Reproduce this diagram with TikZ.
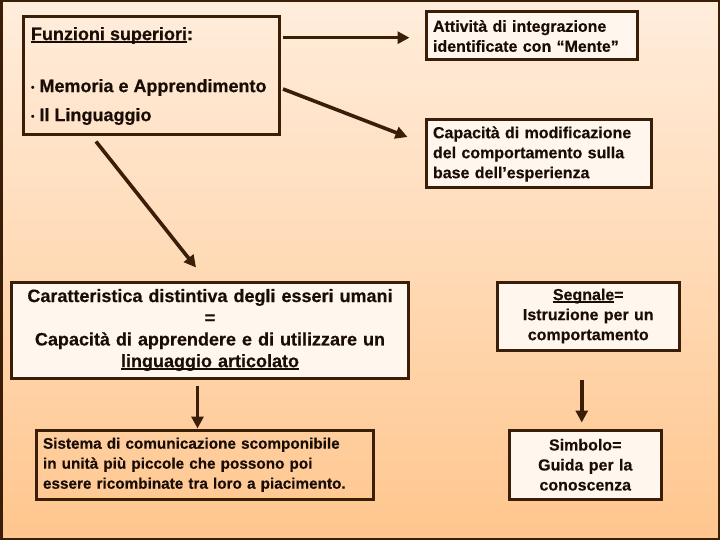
\documentclass[tikz,border=0pt]{standalone}
\usepackage{fontspec}
\setmainfont{Liberation Sans}[BoldFeatures={FakeBold=0.4}]
\usetikzlibrary{arrows.meta,calc}
\definecolor{bgtop}{HTML}{FFEDDC}
\definecolor{bgbot}{HTML}{FFC68E}
\definecolor{ink}{HTML}{3B1E08}
\definecolor{txt}{HTML}{1A0D05}
\definecolor{boxfill}{HTML}{FFF6EE}
\newcommand{\smallbul}{\raisebox{1.5pt}{\fontsize{10}{10}\selectfont •}\hspace{5pt}}
\newcommand{\myul}[1]{\leavevmode\setbox0\hbox{#1}\rlap{\rule[-2.4pt]{\wd0}{1.3pt}}\box0}
\begin{document}
\begin{tikzpicture}[x=1pt,y=-1pt,
  box/.style={draw=ink,line width=3pt,inner sep=0pt,text=txt,font=\bfseries},
  light/.style={box,fill=boxfill},
  rt/.style={font=\bfseries\fontsize{16}{20}\selectfont},
  arr/.style={draw=ink,line width=3.6pt,-{Triangle[length=12pt,width=12pt]}}]
\useasboundingbox (0,0) rectangle (720,540);
\shade[top color=bgtop,bottom color=bgbot] (0,0) rectangle (720,540);
\draw[ink,line width=2.5pt] (1.25,1.25) rectangle (718.75,538.75);

% nodes
\node[box,minimum width=256pt,minimum height=118pt] (fz) at (151,76)
  {\begin{minipage}{240pt}\fontsize{18}{29}\selectfont
   \myul{Funzioni superiori}:\\[23pt]
   \smallbul Memoria e Apprendimento\\
   \smallbul Il Linguaggio\end{minipage}};

\node[light,rt,minimum width=211pt,minimum height=48pt,text width=197pt,align=left] (at) at (531.5,36)
  {Attività di integrazione\\identificate con “Mente”};

\node[light,rt,minimum width=225pt,minimum height=68pt,text width=211pt,align=left] (cap) at (538.5,154)
  {Capacità di modificazione\\del comportamento sulla\\base dell’esperienza};

\node[light,minimum width=397pt,minimum height=96pt,text width=385pt,align=center,
  font=\bfseries\fontsize{18}{21.7}\selectfont] (car) at (210,330)
  {Caratteristica distintiva degli esseri umani\\=\\Capacità di apprendere e di utilizzare un\\\myul{linguaggio articolato}};

\node[box,minimum width=337pt,minimum height=68.5pt,text width=323pt,align=left,
  font=\bfseries\fontsize{15.3}{20}\selectfont] (sis) at (204.5,464.75)
  {Sistema di comunicazione scomponibile\\in unità più piccole che possono poi\\essere ricombinate tra loro a piacimento.};

\node[light,rt,minimum width=182.5pt,minimum height=68pt,text width=170pt,align=center] (seg) at (588.25,316)
  {\myul{Segnale}=\\Istruzione per un\\comportamento};

\node[light,rt,minimum width=151.5pt,minimum height=68.5pt,text width=140pt,align=center] (sim) at (585.25,464.75)
  {Simbolo=\\Guida per la\\conoscenza};

% connectors
\draw[arr] ($(fz.east)+(2,-38.3)$) -- ($(at.west)+(-15,1.7)$);
\draw[arr] ($(fz.east)+(2.5,13)$) -- ($(cap.west)+(-17,-17)$);
\draw[arr] ($(fz.south)+(-55,5)$) -- ($(car.north)+(-14,-13)$);
\draw[arr] ($(car.south)+(-12.5,6)$) -- ($(car.south)+(-12.5,49)$);
\draw[arr] ($(seg.south)+(-6.5,28)$) -- ($(seg.south)+(-6.5,71)$);
\end{tikzpicture}
\end{document}
